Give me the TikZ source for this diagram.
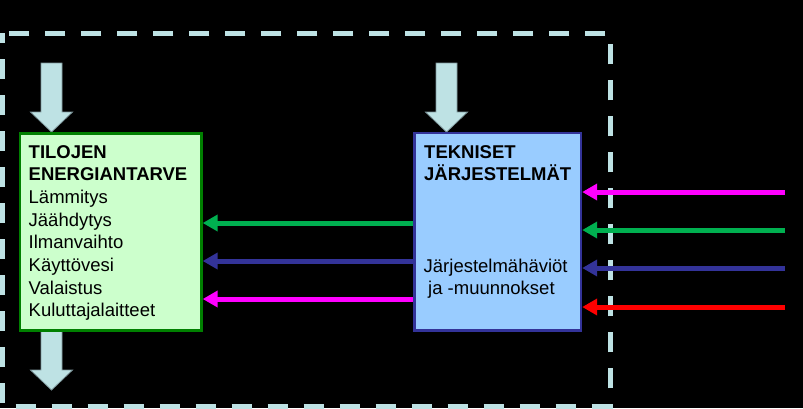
\documentclass[tikz,border=0pt]{standalone}
\usepackage{fontspec}
\setmainfont{Liberation Sans}
\usetikzlibrary{arrows.meta}
\definecolor{framecol}{RGB}{190,226,228}
\definecolor{arrfill}{RGB}{190,226,228}
\definecolor{arrdraw}{RGB}{125,150,155}
\definecolor{boxgreen}{RGB}{204,255,204}
\definecolor{boxgreenline}{RGB}{0,128,0}
\definecolor{boxblue}{RGB}{153,204,255}
\definecolor{boxblueline}{RGB}{51,51,153}
\definecolor{lgreen}{RGB}{0,176,80}
\definecolor{lnavy}{RGB}{51,51,153}
\definecolor{lmag}{RGB}{255,0,255}
\definecolor{lred}{RGB}{255,0,0}
\newcommand\blkdown[3]{\filldraw[blockarr] (#1-10.5,#2) -- (#1+10.5,#2) -- (#1+10.5,#3-20) -- (#1+21,#3-20) -- (#1,#3) -- (#1-21,#3-20) -- (#1-10.5,#3-20) -- cycle;}
\begin{document}
\begin{tikzpicture}[x=1bp,y=-1bp,
  blockarr/.style={fill=arrfill,draw=arrdraw,line width=0.8bp,line join=miter},
  flow/.style={line width=5bp,-{Triangle[length=15bp,width=16bp]}},
  txt/.style={anchor=base west,inner sep=0pt,font=\fontsize{18.5bp}{22.7bp}\selectfont},
  btxt/.style={txt,font=\fontsize{18.5bp}{22.7bp}\selectfont\bfseries},
  greenbox/.style={draw=boxgreenline,fill=boxgreen,line width=2.7bp,anchor=north west,inner sep=0pt},
  bluebox/.style={draw=boxblueline,fill=boxblue,line width=2.7bp,anchor=north west,inner sep=0pt}]
\fill[black] (0,0) rectangle (803,408);
\useasboundingbox (0,0) rectangle (803,408);
% dashed frame
\draw[framecol,line width=5bp,dash pattern=on 20bp off 16bp,dash phase=10bp] (2.5,33) rectangle (610,406);
% block arrows
\blkdown{51.5}{63}{132}
\blkdown{446.5}{63}{132}
\blkdown{51.5}{325}{390}
% boxes
\node[greenbox,minimum width=181.5bp,minimum height=197bp] (tilo) at (18.5,132) {};
\node[bluebox,minimum width=166.5bp,minimum height=197.5bp] (tek) at (413,131.5) {};
% left box text
\node[btxt] (t1) at (28.5,158) {TILOJEN};
\node[btxt] (t2) at (28.5,180.7) {ENERGIANTARVE};
\node[txt] (t3) at (28.5,203.4) {Lämmitys};
\node[txt] (t4) at (28.5,226.1) {Jäähdytys};
\node[txt] (t5) at (28.5,248.8) {Ilmanvaihto};
\node[txt] (t6) at (28.5,271.5) {Käyttövesi};
\node[txt] (t7) at (28.5,294.2) {Valaistus};
\node[txt] (t8) at (28.5,316.9) {Kuluttajalaitteet};
% right box text
\node[btxt] (s1) at (424,158) {TEKNISET};
\node[btxt] (s2) at (424,180.7) {JÄRJESTELMÄT};
\node[txt] (s3) at (423.5,272) {Järjestelmähäviöt};
\node[txt] (s4) at (428,294.5) {ja -muunnokset};
% arrows between boxes
\draw[flow,lgreen] (tek.west |- 0,223) -- (tilo.east |- 0,223);
\draw[flow,lnavy] (tek.west |- 0,261) -- (tilo.east |- 0,261);
\draw[flow,lmag] (tek.west |- 0,299) -- (tilo.east |- 0,299);
% incoming arrows
\coordinate (r1) at (785,192);
\coordinate (r2) at (785,230);
\coordinate (r3) at (785,268);
\coordinate (r4) at (785,307);
\draw[flow,lmag] (r1) -- (tek.east |- r1);
\draw[flow,lgreen] (r2) -- (tek.east |- r2);
\draw[flow,lnavy] (r3) -- (tek.east |- r3);
\draw[flow,lred] (r4) -- (tek.east |- r4);
\end{tikzpicture}
\end{document}
